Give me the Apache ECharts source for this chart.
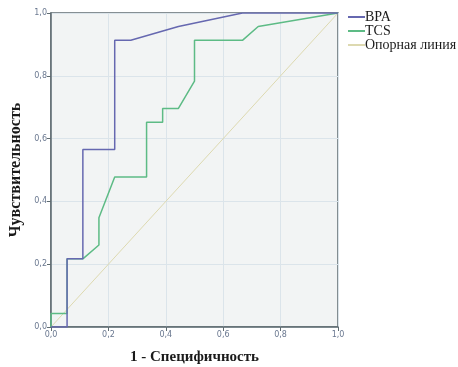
<!DOCTYPE html>
<html><head><meta charset="utf-8">
<script src="https://cdn.jsdelivr.net/npm/echarts@6/dist/echarts.min.js"></script>
<style>html,body{margin:0;padding:0;background:#fff}#c{width:458px;height:367px}</style>
</head><body><div id="c"></div>
<script>
const seriesNames = ['BPA', 'TCS', 'Опорная линия'];
const bpaX = [0, 0.056, 0.056, 0.111, 0.111, 0.222, 0.222, 0.278, 0.444, 0.667, 1.0];
const bpaY = [0, 0, 0.217, 0.217, 0.565, 0.565, 0.913, 0.913, 0.957, 1.0, 1.0];
const tcsX = [0, 0, 0.056, 0.056, 0.111, 0.167, 0.167, 0.222, 0.333, 0.333, 0.389, 0.389, 0.444, 0.5, 0.5, 0.667, 0.722, 1.0];
const tcsY = [0, 0.043, 0.043, 0.217, 0.217, 0.261, 0.348, 0.478, 0.478, 0.652, 0.652, 0.696, 0.696, 0.783, 0.913, 0.913, 0.957, 1.0];
const refX = [0, 1];
const refY = [0, 1];
const xTitle = '1 - Специфичность';
const yTitle = 'Чувствительность';

const zip = (a, b) => a.map((v, i) => [v, b[i]]);
const fmt = v => v.toFixed(1).replace('.', ',');
const axisCommon = {
  type: 'value', min: 0, max: 1, interval: 0.2,
  nameLocation: 'middle',
  axisLine: { show: true, lineStyle: { color: '#5f6b70', width: 1.5 } },
  axisTick: { show: true, length: 4, lineStyle: { color: '#5f6b70' } },
  axisLabel: { formatter: fmt, fontFamily: 'DejaVu Sans', fontSize: 8, color: '#6a7890', margin: 4 },
  splitLine: { show: true, lineStyle: { color: '#dbe4ea', width: 1 } }
};
const chart = echarts.init(document.getElementById('c'));
chart.setOption({
  animation: false,
  grid: { left: 51, right: 120, top: 13, bottom: 40, containLabel: false, outerBoundsMode: 'none',
    show: true, backgroundColor: '#f2f4f4', borderColor: '#5f6b70', borderWidth: 1.5 },
  xAxis: Object.assign({}, axisCommon, { name: xTitle, nameGap: 23,
    nameTextStyle: { fontFamily: 'Liberation Serif', fontWeight: 'bold', fontSize: 15, color: '#1a1a1a' } }),
  yAxis: Object.assign({}, axisCommon, { name: yTitle, nameGap: 25,
    nameTextStyle: { fontFamily: 'Liberation Serif', fontWeight: 'bold', fontSize: 16, color: '#1a1a1a' } }),
  legend: {
    orient: 'vertical', left: 343, top: 5, itemGap: 0, itemWidth: 17, itemHeight: 2,
    icon: 'rect', data: seriesNames,
    textStyle: { fontFamily: 'Liberation Serif', fontSize: 14, lineHeight: 13, color: '#1a1a1a', padding: [0, 0, 0, -5] }
  },
  series: [
    { name: seriesNames[2], type: 'line', data: zip(refX, refY), symbol: 'none', lineStyle: { color: '#ddd9b0', width: 1 }, itemStyle: { color: '#ddd9b0' }, z: 1 },
    { name: seriesNames[1], type: 'line', data: zip(tcsX, tcsY), symbol: 'none', lineStyle: { color: '#5dbb85', width: 1.5 }, itemStyle: { color: '#5dbb85' }, z: 2 },
    { name: seriesNames[0], type: 'line', data: zip(bpaX, bpaY), symbol: 'none', lineStyle: { color: '#6668b0', width: 1.5 }, itemStyle: { color: '#6668b0' }, z: 3 }
  ]
});
</script></body></html>
